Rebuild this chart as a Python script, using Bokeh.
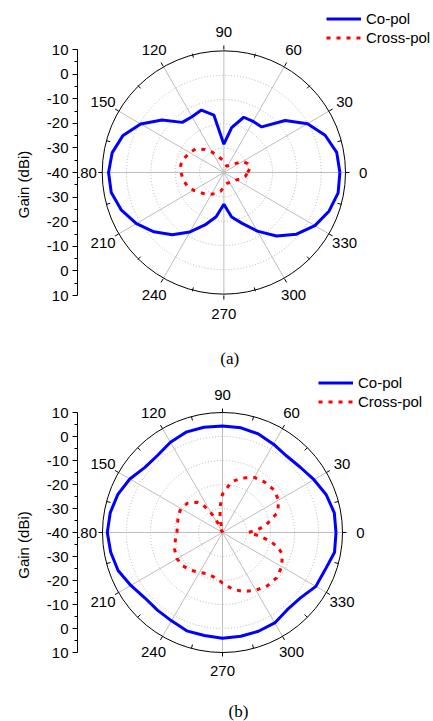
import numpy as np
from bokeh.plotting import figure
from bokeh.models import Range1d, LinearAxis, FixedTicker, Legend, LegendItem, Grid
from bokeh.layouts import column
from bokeh.core.properties import value
from bokeh.embed import file_html
from bokeh.resources import INLINE

# ---------------- data ----------------
angles = list(range(0, 360, 10))
angle_labels = list(range(0, 360, 30))
r_min, r_max = -40, 10

co_a = [7.7, 7.1, 4.3, -0.3, -7.1, -15.8, -16.0, -16.1, -21.5, -28.5,
        -16.3, -13.0, -13.8, -13.4, -6.8, -0.5, 4.1, 6.6, 7.4, 7.0,
        4.8, 1.5, -2.5, -7.0, -12.1, -17.3, -21.7, -27.1, -21.6, -18.0,
        -12.5, -6.3, -1.0, 3.2, 6.0, 7.7]
cross_a = [-30.2, -29.0, -29.5, -31.0, -34.5, -36.0, -37.0, -37.0, -36.5, -35.5,
           -34.5, -33.0, -30.5, -27.8, -25.0, -23.8, -22.8, -22.0, -22.4, -23.0,
           -24.0, -25.6, -27.3, -28.5, -29.8, -31.0, -32.2, -34.0, -35.2, -35.5,
           -35.2, -34.8, -34.4, -34.0, -32.5, -31.0]

co_b = [7.3, 7.3, 6.0, 4.0, 2.3, 1.6, 2.5, 3.7, 4.3, 4.4,
        4.5, 4.5, 3.4, 2.0, 2.2, 4.6, 6.4, 7.5, 8.0, 7.3,
        6.3, 4.1, 2.3, 2.2, 2.5, 3.6, 3.6, 4.1, 3.9, 3.8,
        3.5, 2.0, 2.4, 4.9, 5.5, 7.4]
cross_b_angles = [0, 5, 10, 20, 30, 40, 50, 60, 70, 80, 90, 95, 100, 105, 115, 120,
                  125, 130, 140, 150, 160, 170, 180, 190, 200, 210, 220, 230, 240,
                  250, 260, 270, 280, 290, 300, 310, 320, 330, 340, 345, 350, 355]
cross_b = [-29.0, -25.0, -21.5, -15.5, -13.0, -12.2, -12.6, -13.5, -15.8, -18.5,
           -24.0, -29.0, -34.0, -40.0, -36.0, -31.0, -26.0, -23.5, -21.0, -20.0,
           -20.3, -21.0, -21.0, -20.0, -18.8, -18.1, -18.4, -19.5, -20.8, -21.7,
           -21.0, -19.0, -16.0, -13.8, -12.2, -11.0, -10.6, -11.5, -13.5, -16.0,
           -20.0, -25.0]

BLUE = "#0000FF"
RED = "#FF0000"
FONT = "Liberation Sans"


def polar_xy(ang_deg, gains):
    a = np.radians(np.append(ang_deg, ang_deg[0]))
    g = np.clip(np.append(gains, gains[0]), r_min, None) - r_min
    return g * np.cos(a), g * np.sin(a)


def panel(co_ang, co, cx_ang, cx, caption, height, left_px, scale, cx_px, cy_px,
          legend_loc, cap_dx_px, cap_dy_px):
    width = 433
    R = r_max - r_min
    x0 = -(cx_px - left_px) / scale
    x1 = (width - cx_px) / scale
    y1 = cy_px / scale
    y0 = -(height - cy_px) / scale
    p = figure(width=width, height=height, x_range=Range1d(x0, x1), y_range=Range1d(y0, y1),
               output_backend="svg", toolbar_location=None,
               x_axis_location=None, y_axis_location=None,
               min_border_left=left_px, min_border_right=0, min_border_top=0,
               min_border_bottom=0, outline_line_color=None)
    for g in p.select(type=Grid):
        g.visible = False

    # radial axis on the left: 10 ... -40 (centre) ... 10
    ticks = list(range(-R, R + 1, 10))
    overrides = {t: str(abs(t) + r_min) for t in ticks}
    ax = LinearAxis(ticker=FixedTicker(ticks=ticks, minor_ticks=list(range(-R + 5, R, 10))),
                    bounds=(-R, R), axis_label="Gain (dBi)",
                    major_label_overrides=overrides,
                    major_tick_out=5, major_tick_in=0, minor_tick_out=3, minor_tick_in=0,
                    major_label_standoff=4, axis_label_standoff=12,
                    major_label_text_font=FONT, major_label_text_font_size="15px",
                    major_label_text_color="black",
                    axis_label_text_font=FONT, axis_label_text_font_size="15px",
                    axis_label_text_font_style="normal", axis_label_text_color="black",
                    axis_line_color="black", major_tick_line_color="black",
                    minor_tick_line_color="black")
    p.add_layout(ax, "left")

    # dotted grid circles
    rings = [10, 20, 30, 40]
    p.circle(x=[0] * len(rings), y=[0] * len(rings), radius=rings, fill_color=None,
             line_color="#b4b4b4", line_width=1, line_dash="1 2")
    # spokes
    sp = np.radians(angle_labels)
    p.segment(x0=0, y0=0, x1=R * np.cos(sp), y1=R * np.sin(sp), line_color="#bdbdbd", line_width=1)
    # outer circle
    p.circle(x=[0], y=[0], radius=[R], fill_color=None, line_color="black", line_width=1)
    # ticks on outer circle
    tk = 4 / scale
    p.segment(x0=R * np.cos(sp), y0=R * np.sin(sp), x1=(R + tk) * np.cos(sp), y1=(R + tk) * np.sin(sp),
              line_color="black", line_width=1)
    mn = np.radians(np.array(angle_labels) + 15)
    p.segment(x0=R * np.cos(mn), y0=R * np.sin(mn), x1=(R - tk) * np.cos(mn), y1=(R - tk) * np.sin(mn),
              line_color="black", line_width=1)
    # angle labels
    lr = R + 18 / scale
    p.text(x=lr * np.cos(sp), y=lr * np.sin(sp), text=[str(a) for a in angle_labels],
           text_align="center", text_baseline="middle", text_font=value(FONT),
           text_font_size="15px", text_color="black")

    # data
    xc, yc = polar_xy(co_ang, co)
    r_co = p.line(xc, yc, line_color=BLUE, line_width=3)
    xx, yx = polar_xy(cx_ang, cx)
    r_cx = p.line(xx, yx, line_color=RED, line_width=3, line_dash="4 6")

    leg = Legend(items=[LegendItem(label="Co-pol", renderers=[r_co]),
                        LegendItem(label="Cross-pol", renderers=[r_cx])],
                 location=legend_loc, glyph_width=35, glyph_height=19, label_height=19,
                 label_width=75, spacing=0, padding=0, margin=0, label_standoff=5,
                 border_line_color=None, background_fill_alpha=0,
                 label_text_font=FONT, label_text_font_size="15px", label_text_color="black")
    p.add_layout(leg)

    p.text(x=[cap_dx_px / scale], y=[cap_dy_px / scale], text=[caption],
           text_align="center", text_baseline="middle", text_font=value("Liberation Serif"),
           text_font_size="17px", text_color="black")
    return p


pa = panel(angles, co_a, angles, cross_a, "(a)", 368, 73, 2.46, 221, 172,
           (249, 321.5), 6, -186)
pb = panel(angles, co_b, cross_b_angles, cross_b, "(b)", 353, 77, 2.40, 222, 164,
           (241, 310.5), 16, -179)

layout = column(pa, pb, spacing=0)
open("out.html", "w").write(file_html(layout, INLINE))
